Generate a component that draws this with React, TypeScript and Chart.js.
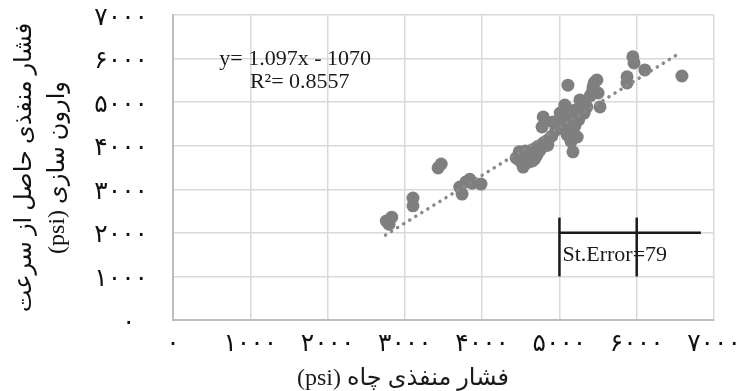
import { useEffect, useRef } from 'react';
import { Chart, registerables } from 'chart.js';

Chart.register(...registerables);

// Well pore pressure (psi) — x values
const wellPressure = [
  2760, 2830, 2795, 3105, 3105, 3430, 3470, 3740, 3710, 3790, 3870, 3985, 3840,
  4480, 4480, 4530, 4580, 4645, 4710, 4710, 4790, 4850, 4900, 4790, 4775, 4955,
  5010, 5100, 5010, 5135, 5230, 5175, 5110, 5265, 5355, 5525, 5435, 5485, 5500,
  5070, 5200, 5875, 5875, 5950, 5965, 6105, 6585, 4915, 4850, 4600, 4440, 5050,
  5300, 5150, 4550, 4620, 4680, 4750, 4820, 4560, 4650, 5050, 5150, 5250, 5320,
  5200, 5100, 5300, 5400, 5450, 5430,
];
// Pore pressure from velocity inversion (psi) — y values
const inversionPressure = [
  2270, 2360, 2200, 2800, 2620, 3490, 3580, 2890, 3050, 3170, 3140, 3120, 3230,
  3670, 3860, 3510, 3740, 3900, 3790, 3970, 4060, 4130, 4220, 4660, 4430, 4360,
  4750, 4590, 4480, 4360, 4200, 3860, 5390, 5050, 4890, 4890, 5350, 5510, 5210,
  4935, 4820, 5580, 5440, 6040, 5900, 5740, 5600, 4545, 4015, 3620, 3720, 4620,
  5000, 4100, 3600, 3800, 3700, 3900, 4000, 3880, 3650, 4400, 4700, 4600, 4750,
  4450, 4250, 4850, 5150, 5450, 5250,
];

const trendX = [2750, 6550];
const trendY = [1950, 6120];

const errorBarX = [5000, 6000];
const errorBarY = [1000, 2350];
const errorBaseX = [5000, 6830];
const errorBaseY = 2000;

const tickValues = [0, 1000, 2000, 3000, 4000, 5000, 6000, 7000];
const tickLabels = ['۰', '۱۰۰۰', '۲۰۰۰', '۳۰۰۰', '۴۰۰۰', '۵۰۰۰', '۶۰۰۰', '۷۰۰۰'];

const equationText = 'y= 1.097x - 1070';
const r2Text = 'R²= 0.8557';
const stErrorText = 'St.Error=79';
const xTitle = 'فشار منفذی چاه (psi)';
const yTitle = ['فشار منفذی حاصل از سرعت', 'وارون سازی (psi)'];

const ARABIC_FONT = "'Liberation Serif', 'DejaVu Sans', serif";
const DIGIT_FONT = "'DejaVu Sans', sans-serif";
const SERIF_FONT = "'Liberation Serif', 'Times New Roman', serif";

function labelFor(v: number): string {
  const i = tickValues.indexOf(Number(v));
  return i >= 0 ? tickLabels[i] : '';
}

const annotationPlugin = {
  id: 'textAnnotations',
  afterDatasetsDraw(chart: any) {
    const { ctx, scales } = chart;
    const x = scales.x;
    const y = scales.y;
    ctx.save();
    ctx.fillStyle = '#1a1a1a';
    ctx.direction = 'ltr';
    ctx.font = `22px ${SERIF_FONT}`;
    ctx.textAlign = 'center';
    ctx.textBaseline = 'middle';
    ctx.fillText(equationText, x.getPixelForValue(1580), y.getPixelForValue(5990));
    ctx.fillText(r2Text, x.getPixelForValue(1640), y.getPixelForValue(5460));
    ctx.textAlign = 'left';
    ctx.fillText(stErrorText, x.getPixelForValue(5000) + 3, y.getPixelForValue(1490));
    ctx.direction = 'rtl';
    ctx.font = `24px ${ARABIC_FONT}`;
    ctx.textAlign = 'center';
    ctx.fillText(xTitle, 403, 379);
    ctx.restore();
  },
};

export default function App() {
  const canvasRef = useRef<HTMLCanvasElement | null>(null);

  useEffect(() => {
    if (!canvasRef.current) return;
    const points = wellPressure.map((v, i) => ({ x: v, y: inversionPressure[i] }));
    const lineDs = (data: { x: number; y: number }[]) => ({
      type: 'line' as const,
      data,
      borderColor: '#1a1a1a',
      borderWidth: 2.5,
      pointRadius: 0,
      showLine: true,
      fill: false,
      order: 0,
    });
    const chart = new Chart(canvasRef.current, {
      type: 'scatter',
      data: {
        datasets: [
          {
            type: 'line',
            data: trendX.map((v, i) => ({ x: v, y: trendY[i] })),
            borderColor: '#8a8a8a',
            borderWidth: 3.5,
            borderDash: [0.1, 7],
            borderCapStyle: 'round',
            pointRadius: 0,
            fill: false,
            order: 1,
          } as any,
          {
            data: points,
            backgroundColor: '#7f7f7f',
            borderWidth: 0,
            pointRadius: 6.5,
            order: 2,
          },
          lineDs([{ x: errorBarX[0], y: errorBarY[0] }, { x: errorBarX[0], y: errorBarY[1] }]) as any,
          lineDs([{ x: errorBarX[1], y: errorBarY[0] }, { x: errorBarX[1], y: errorBarY[1] }]) as any,
          lineDs([{ x: errorBaseX[0], y: errorBaseY }, { x: errorBaseX[1], y: errorBaseY }]) as any,
        ],
      },
      options: {
        responsive: false,
        animation: false,
        devicePixelRatio: 1,
        layout: { padding: { top: 15, right: 23, left: 0, bottom: 0 } },
        plugins: { legend: { display: false }, tooltip: { enabled: false } },
        scales: {
          x: {
            type: 'linear',
            min: 0,
            max: 7000,
            ticks: {
              stepSize: 1000,
              callback: (v: any) => labelFor(v),
              font: { family: DIGIT_FONT, size: 25 },
              color: '#111',
              padding: 9,
              maxRotation: 0,
              autoSkip: false,
            },
            grid: { color: '#d9d9d9', lineWidth: 1.5, drawTicks: false },
            border: { color: '#bdbdbd', width: 2 },
            afterFit: (s: any) => {
              s.height = 71;
              s.paddingLeft = 0;
              s.paddingRight = 0;
            },
          },
          y: {
            type: 'linear',
            min: 0,
            max: 7000,
            ticks: {
              stepSize: 1000,
              callback: (v: any) => (Number(v) === 0 ? '\u2002' + labelFor(v) : labelFor(v)),
              font: { family: DIGIT_FONT, size: 25 },
              color: '#111',
              padding: 25,
              labelOffset: 3,
              autoSkip: false,
            },
            grid: { color: '#d9d9d9', lineWidth: 1.5, drawTicks: false },
            border: { color: '#bdbdbd', width: 2 },
            title: {
              display: true,
              text: yTitle,
              font: { family: ARABIC_FONT, size: 24, lineHeight: 1.35 },
              color: '#111',
              padding: { top: 9, bottom: 0 },
            },
            afterFit: (s: any) => {
              s.width = 173;
              s.paddingTop = 0;
              s.paddingBottom = 0;
            },
          },
        },
      },
      plugins: [annotationPlugin],
    } as any);
    return () => chart.destroy();
  }, []);

  return (
    <div style={{ position: 'fixed', left: 0, top: 0, width: 737, height: 391, background: '#fff' }}>
      <canvas ref={canvasRef} width={737} height={391} style={{ direction: 'rtl', display: 'block' }} />
    </div>
  );
}
